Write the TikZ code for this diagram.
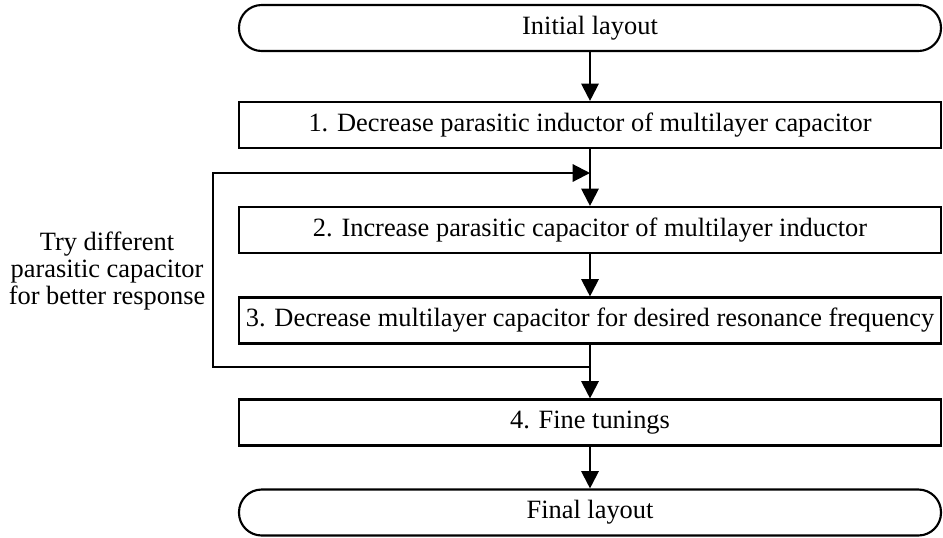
\documentclass[tikz,border=0pt]{standalone}
\usepackage{fontspec}
\setmainfont{Liberation Serif}
\usetikzlibrary{arrows.meta}

\tikzset{
  stepbox/.style={draw, line width=1.6, minimum width=526.5pt, minimum height=34.5pt, inner sep=0pt, font=\fontsize{19.8}{22}\selectfont},
  termbox/.style={stepbox, rounded corners=17pt},
  flow/.style={line width=1.6, -{Triangle[length=13pt,width=13pt]}}
}

\begin{document}
\begin{tikzpicture}[x=0.75pt,y=0.75pt,yscale=-1,xscale=1]
\useasboundingbox (0,0) rectangle (943,537);

%Terminals and steps
\node [termbox] (init) at (590,28) {Initial layout};
\node [stepbox] (dec) at (590,125) {1. Decrease parasitic inductor of multilayer capacitor};
\node [stepbox] (inc) at (590,230) {2. Increase parasitic capacitor of multilayer inductor};
\node [stepbox] (res) at (590,320.5) {3. Decrease multilayer capacitor for desired resonance frequency};
\node [stepbox] (tune) at (590,422.5) {4. Fine tunings};
\node [termbox] (final) at (590,512.5) {Final layout};

%Loop note
\node [align=center, font=\fontsize{19.8}{20.5}\selectfont] (note) at (107,271) {Try different\\parasitic capacitor\\for better response};

%Loop junctions
\coordinate (jin) at (590,173);
\coordinate (jout) at (590,367);

%Straight arrows
\draw [flow] (init) -- (dec);
\draw [flow] (dec) -- (inc);
\draw [flow] (inc) -- (res);
\draw [flow] (res) -- (tune);
\draw [flow] (tune) -- (final);
%Feedback loop
\draw [flow] (jout) -- (213,367) -- (213,173) -- (jin);

\end{tikzpicture}
\end{document}
